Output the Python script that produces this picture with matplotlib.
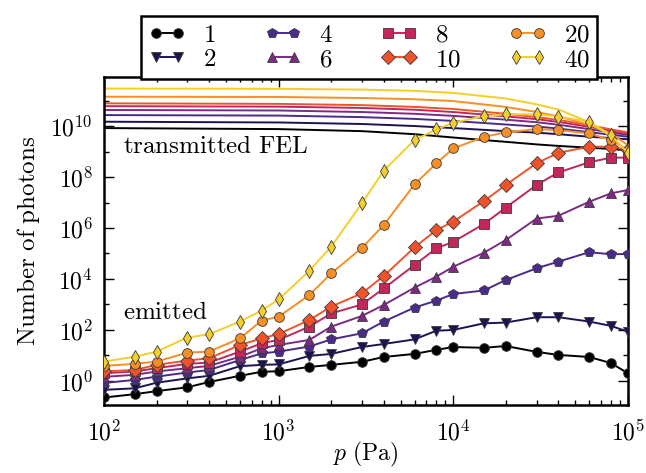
import numpy as np
import matplotlib
matplotlib.use('Agg')
import matplotlib.pyplot as plt
from matplotlib.ticker import FixedLocator, FuncFormatter, LogLocator, NullFormatter

plt.rcParams['mathtext.fontset'] = 'cm'
plt.rcParams['font.family'] = ['DejaVu Serif']

# ---- data -------------------------------------------------------------
pressure = [100, 150, 200, 300, 400, 600, 800, 1000, 1500, 2000, 3000, 4000,
            6000, 8000, 10000, 15000, 20000, 30000, 40000, 60000, 80000, 100000]

series_labels = ['1', '2', '4', '6', '8', '10', '20', '40']

# emitted photons, log10 values
em_1 = [-0.65, -0.52, -0.40, -0.25, -0.04, 0.20, 0.36, 0.38, 0.55, 0.63, 0.75, 0.94,
        1.06, 1.22, 1.33, 1.30, 1.37, 1.14, 1.02, 0.94, 0.70, 0.30]
em_2 = [-0.35, -0.29, -0.07, 0.10, 0.20, 0.58, 0.63, 0.65, 0.98, 1.06, 1.33, 1.45,
        1.63, 1.97, 2.00, 2.26, 2.29, 2.50, 2.50, 2.33, 2.16, 1.93]
em_4 = [-0.08, 0.04, 0.17, 0.33, 0.43, 0.82, 1.08, 1.15, 1.35, 1.63, 1.87, 2.33,
        2.88, 3.15, 3.41, 3.55, 3.96, 4.42, 4.68, 5.05, 4.97, 4.98]
em_6 = [0.16, 0.24, 0.37, 0.50, 0.59, 0.95, 1.28, 1.41, 1.61, 2.13, 2.55, 2.98,
        3.66, 4.09, 4.48, 5.03, 5.53, 6.37, 6.48, 7.03, 7.36, 7.49]
em_8 = [0.30, 0.37, 0.50, 0.67, 0.72, 1.15, 1.48, 1.61, 2.13, 2.65, 3.00, 3.63,
        4.55, 5.20, 5.46, 6.16, 6.80, 7.69, 8.18, 8.58, 8.76, 8.76]
em_10 = [0.37, 0.43, 0.63, 0.80, 0.89, 1.41, 1.67, 1.84, 2.39, 2.92, 3.44, 4.12,
         5.24, 5.92, 6.25, 7.06, 7.69, 8.54, 8.95, 9.19, 9.19, 9.06]
em_20 = [0.59, 0.67, 0.76, 1.11, 1.15, 1.67, 2.37, 2.52, 3.37, 4.22, 5.22, 6.12,
         7.71, 8.54, 9.12, 9.58, 9.75, 9.88, 9.84, 9.71, 9.45, 9.06]
em_40 = [0.76, 0.95, 1.15, 1.70, 1.83, 2.33, 2.76, 3.20, 4.32, 5.27, 6.97, 8.25,
         9.45, 9.87, 10.13, 10.39, 10.46, 10.46, 10.37, 10.17, 9.65, 8.93]

# transmitted FEL photons, log10 values
pressure_tr = [100, 1000, 3000, 6000, 10000, 20000, 30000, 40000, 60000, 80000, 100000]
tr_1 = [9.92, 9.88, 9.80, 9.68, 9.55, 9.38, 9.28, 9.22, 9.15, 9.10, 9.05]
tr_2 = [10.17, 10.14, 10.08, 10.00, 9.92, 9.80, 9.74, 9.68, 9.58, 9.53, 9.48]
tr_4 = [10.43, 10.41, 10.35, 10.28, 10.20, 10.06, 9.98, 9.90, 9.76, 9.66, 9.58]
tr_6 = [10.63, 10.61, 10.55, 10.48, 10.40, 10.25, 10.15, 10.05, 9.88, 9.75, 9.65]
tr_8 = [10.78, 10.76, 10.71, 10.64, 10.55, 10.38, 10.27, 10.16, 9.97, 9.82, 9.70]
tr_10 = [10.89, 10.87, 10.82, 10.75, 10.67, 10.48, 10.35, 10.24, 10.03, 9.87, 9.75]
tr_20 = [11.15, 11.14, 11.10, 11.05, 10.98, 10.75, 10.55, 10.38, 10.05, 9.70, 9.25]
tr_40 = [11.47, 11.46, 11.43, 11.38, 11.30, 11.08, 10.85, 10.65, 10.15, 9.60, 8.95]

emitted = [em_1, em_2, em_4, em_6, em_8, em_10, em_20, em_40]
transmitted = [tr_1, tr_2, tr_4, tr_6, tr_8, tr_10, tr_20, tr_40]

colors = ['#000000', '#1f1252', '#4a2a8c', '#7d2a85', '#c3265a', '#f0532b',
          '#f78f24', '#f4cf2c']
markers = ['o', 'v', 'p', '^', 's', 'D', 'o', 'd']

# ---- figure -----------------------------------------------------------
fig = plt.figure(figsize=(6.46, 4.73), dpi=100)
ax = fig.add_axes([0.161, 0.144, 0.811, 0.693])

for tr, c in zip(transmitted, colors):
    ax.plot(pressure_tr, 10.0 ** np.array(tr), color=c, lw=1.4, zorder=2)

handles = []
for em, c, m, lab in zip(emitted, colors, markers, series_labels):
    h, = ax.plot(pressure, 10.0 ** np.array(em), color=c, lw=1.4, marker=m,
                 markersize=7 if m not in ('D', 'd') else 7.5,
                 markeredgecolor='#3a3a3a', markeredgewidth=0.6,
                 label='$%s$' % lab, zorder=3)
    handles.append(h)

ax.set_xscale('log')
ax.set_yscale('log')
ax.set_xlim(100, 1e5)
ax.set_ylim(10 ** -0.94, 10 ** 11.92)

fmt = FuncFormatter(lambda v, pos: r'$10^{%d}$' % int(round(np.log10(v))))
ax.xaxis.set_major_locator(FixedLocator([1e2, 1e3, 1e4, 1e5]))
ax.xaxis.set_minor_locator(LogLocator(base=10, subs=np.arange(2, 10)))
ax.xaxis.set_major_formatter(fmt)
ax.xaxis.set_minor_formatter(NullFormatter())
ax.yaxis.set_major_locator(FixedLocator([10.0 ** k for k in range(0, 13, 2)]))
ax.yaxis.set_minor_locator(FixedLocator([10.0 ** k for k in range(-1, 13, 2)]))
ax.yaxis.set_major_formatter(fmt)
ax.yaxis.set_minor_formatter(NullFormatter())

ax.tick_params(which='both', direction='in', top=True, right=True,
               labelsize=17, width=1.0)
ax.tick_params(which='major', length=7)
ax.tick_params(axis='x', which='major', pad=11)
ax.tick_params(axis='y', which='major', pad=8)
ax.tick_params(which='minor', length=3.5)
for s in ax.spines.values():
    s.set_linewidth(1.8)

ax.set_xlabel(r'$p\ \mathrm{(Pa)}$', fontsize=17, va='top')
ax.xaxis.set_label_coords(0.5, -0.108)
ax.set_ylabel(r'$\mathrm{Number\ of\ photons}$', fontsize=18, labelpad=6)

ax.text(128, 10 ** 9.2, r'$\mathrm{transmitted\ FEL}$', fontsize=18,
        ha='left', va='center')
ax.text(128, 10 ** 2.67, r'$\mathrm{emitted}$', fontsize=18,
        ha='left', va='center')

leg = ax.legend(handles=handles, ncol=4, loc='lower center',
                bbox_to_anchor=(0.506, 0.995), fontsize=18, frameon=True,
                fancybox=False, edgecolor='black', framealpha=1,
                handlelength=1.5, handletextpad=0.7, columnspacing=1.9,
                labelspacing=0.05, borderpad=0.3, numpoints=2,
                borderaxespad=0.0)
leg.get_frame().set_linewidth(1.8)

fig.savefig('out.png', dpi=100)
